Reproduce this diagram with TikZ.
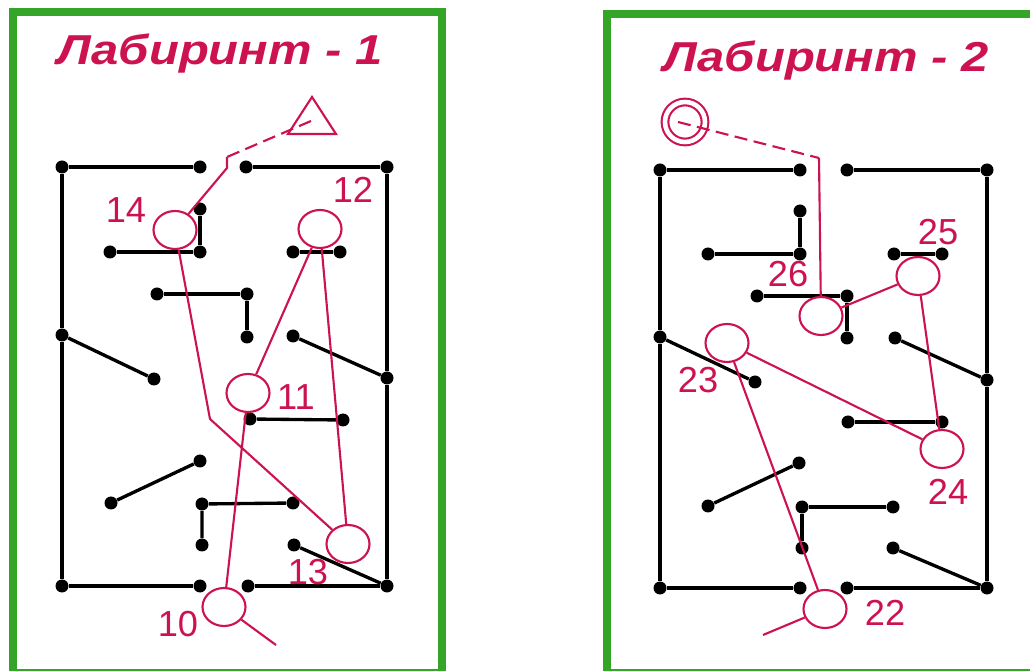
\documentclass[tikz,border=0pt]{standalone}
\usepackage{fontspec}
\setmainfont{Liberation Sans}
\newfontfamily\titlefont{Liberation Sans}[FakeStretch=1.17]
\usetikzlibrary{shapes.geometric}
\definecolor{mazegreen}{RGB}{52,165,40}
\definecolor{mazered}{RGB}{205,18,80}
\begin{document}
\begin{tikzpicture}[x=0.2mm, y=-0.2mm,
        dot/.style={circle, fill=black, inner sep=0pt, minimum size=2.6mm},
        wall/.style={black, line width=1.9pt},
        room/.style={ellipse, draw=mazered, line width=1.2pt, inner sep=0pt, minimum width=8.6mm, minimum height=7.6mm},
        route/.style={mazered, line width=1.2pt},
        num/.style={text=mazered, inner sep=0pt, font=\fontsize{20.6}{24}\selectfont},
        title/.style={text=mazered, inner sep=0pt, anchor=base, font=\titlefont\fontsize{23.8}{28}\selectfont\bfseries\itshape},
        frame/.style={draw=mazegreen, line width=5pt}
    ]
        \useasboundingbox (0,0) rectangle (1030,671);
        \fill[white] (0,0) rectangle (1030,671);

        % Marcos
        \draw[frame] (13,12) rectangle (442,673);
        \draw[frame] (607,14) rectangle (1045,673);

        % Titulos
        \node[title] (t1) at (220,65) {Лабиринт - 1};
        \node[title] (t2) at (826,72) {Лабиринт - 2};

        % Laberinto 1 (izquierda)
        \node[dot] (l1) at (62,167) {};
        \node[dot] (l2) at (200,167) {};
        \node[dot] (l3) at (246,167) {};
        \node[dot] (l4) at (387,167) {};
        \node[dot] (l5) at (200,209) {};
        \node[dot] (l6) at (200,252) {};
        \node[dot] (l7) at (110,252) {};
        \node[dot] (l8) at (293,252) {};
        \node[dot] (l9) at (340,252) {};
        \node[dot] (l10) at (157,294) {};
        \node[dot] (l11) at (247,294) {};
        \node[dot] (l12) at (247,337) {};
        \node[dot] (l13) at (62,335) {};
        \node[dot] (l14) at (154,379) {};
        \node[dot] (l15) at (293,336) {};
        \node[dot] (l16) at (387,378) {};
        \node[dot] (l17) at (250,419) {};
        \node[dot] (l18) at (343,420) {};
        \node[dot] (l19) at (200,461) {};
        \node[dot] (l20) at (111,503) {};
        \node[dot] (l21) at (202,504) {};
        \node[dot] (l22) at (293,503) {};
        \node[dot] (l23) at (202,545) {};
        \node[dot] (l24) at (294,545) {};
        \node[dot] (l25) at (387,586) {};
        \node[dot] (l26) at (62,586) {};
        \node[dot] (l27) at (200,586) {};
        \node[dot] (l28) at (248,586) {};

        \draw[wall] (l1) -- (l2);
        \draw[wall] (l3) -- (l4);
        \draw[wall] (l1) -- (l13) -- (l26);
        \draw[wall] (l4) -- (l16) -- (l25);
        \draw[wall] (l5) -- (l6) -- (l7);
        \draw[wall] (l8) -- (l9);
        \draw[wall] (l10) -- (l11) -- (l12);
        \draw[wall] (l13) -- (l14);
        \draw[wall] (l15) -- (l16);
        \draw[wall] (l17) -- (l18);
        \draw[wall] (l19) -- (l20);
        \draw[wall] (l22) -- (l21) -- (l23);
        \draw[wall] (l24) -- (l25);
        \draw[wall] (l26) -- (l27);
        \draw[wall] (l28) -- (l25);

        % Recorrido 1
        \node[room] (c10) at (224,607) {};
        \node[room] (c11) at (248,393) {};
        \node[room] (c12) at (320,229) {};
        \node[room] (c13) at (348,544) {};
        \node[room] (c14) at (175,230) {};
        \node[num] (n10) at (178,624) {10};
        \node[num] (n11) at (296,397) {11};
        \node[num] (n12) at (353,190) {12};
        \node[num] (n13) at (308,572) {13};
        \node[num] (n14) at (126,210) {14};

        \coordinate (s1) at (276,645);
        \coordinate (k1) at (210,419);
        \coordinate (d1) at (227,168);
        \coordinate (d2) at (227,157);
        \coordinate (e1) at (311,121);
        \draw[route] (312,97) -- (288,134) -- (336,134) -- cycle;

        \draw[route] (c10) -- (s1);
        \draw[route] (c10) -- (c11);
        \draw[route] (c11) -- (c12);
        \draw[route] (c12) -- (c13);
        \draw[route] (c13) -- (k1) -- (c14);
        \draw[route] (c14) -- (d1) -- (d2);
        \draw[route, dash pattern=on 2.6mm off 1.3mm] (e1) -- (d2);

        % Laberinto 2 (derecha)
        \node[dot] (r1) at (660,170) {};
        \node[dot] (r2) at (800,170) {};
        \node[dot] (r3) at (847,170) {};
        \node[dot] (r4) at (987,170) {};
        \node[dot] (r5) at (800,211) {};
        \node[dot] (r6) at (800,254) {};
        \node[dot] (r7) at (708,254) {};
        \node[dot] (r8) at (894,254) {};
        \node[dot] (r9) at (942,254) {};
        \node[dot] (r10) at (757,296) {};
        \node[dot] (r11) at (847,296) {};
        \node[dot] (r12) at (847,338) {};
        \node[dot] (r13) at (660,337) {};
        \node[dot] (r14) at (755,382) {};
        \node[dot] (r15) at (895,338) {};
        \node[dot] (r16) at (987,380) {};
        \node[dot] (r17) at (848,422) {};
        \node[dot] (r18) at (942,422) {};
        \node[dot] (r19) at (799,463) {};
        \node[dot] (r20) at (708,506) {};
        \node[dot] (r21) at (802,507) {};
        \node[dot] (r22) at (893,507) {};
        \node[dot] (r23) at (802,548) {};
        \node[dot] (r24) at (893,548) {};
        \node[dot] (r25) at (987,588) {};
        \node[dot] (r26) at (660,588) {};
        \node[dot] (r27) at (800,588) {};
        \node[dot] (r28) at (847,588) {};

        \draw[wall] (r1) -- (r2);
        \draw[wall] (r3) -- (r4);
        \draw[wall] (r1) -- (r13) -- (r26);
        \draw[wall] (r4) -- (r16) -- (r25);
        \draw[wall] (r5) -- (r6) -- (r7);
        \draw[wall] (r8) -- (r9);
        \draw[wall] (r10) -- (r11) -- (r12);
        \draw[wall] (r13) -- (r14);
        \draw[wall] (r15) -- (r16);
        \draw[wall] (r17) -- (r18);
        \draw[wall] (r19) -- (r20);
        \draw[wall] (r22) -- (r21) -- (r23);
        \draw[wall] (r24) -- (r25);
        \draw[wall] (r26) -- (r27);
        \draw[wall] (r28) -- (r25);

        % Recorrido 2
        \node[room] (c22) at (825,609) {};
        \node[room] (c23) at (727,343) {};
        \node[room] (c24) at (942,449) {};
        \node[room] (c25) at (918,276) {};
        \node[room] (c26) at (821,316) {};
        \node[num] (n22) at (885,613) {22};
        \node[num] (n23) at (698,380) {23};
        \node[num] (n24) at (948,492) {24};
        \node[num] (n25) at (938,232) {25};
        \node[num] (n26) at (788,274) {26};

        \node[circle, draw=mazered, double, line width=1.2pt, double distance=2.6pt,
              inner sep=0pt, minimum size=8mm] (start2) at (685,122) {};
        \coordinate (s2) at (763,635);
        \coordinate (u2) at (819,158);

        \draw[route] (c22) -- (s2);
        \draw[route] (c22) -- (c23);
        \draw[route] (c23) -- (c24);
        \draw[route] (c24) -- (c25);
        \draw[route] (c25) -- (c26);
        \draw[route] (c26) -- (u2);
        \draw[route, dash pattern=on 2.6mm off 1.3mm] ([xshift=-1.4mm]start2.center) -- (u2);
    \end{tikzpicture}
\end{document}
